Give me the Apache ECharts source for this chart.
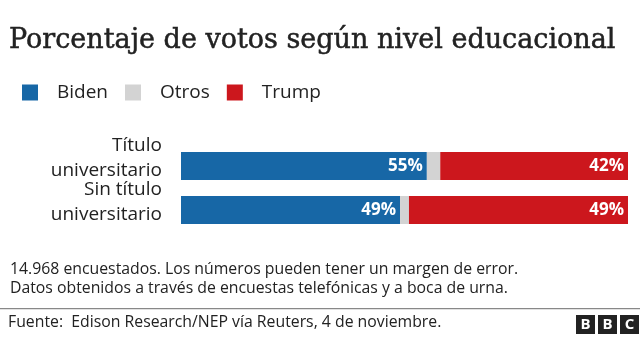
<!DOCTYPE html>
<html><head><meta charset="utf-8">
<script src="https://cdn.jsdelivr.net/npm/echarts@6/dist/echarts.min.js"></script>
<style>html,body{margin:0;padding:0;background:#fff}#c{width:640px;height:337px}</style>
</head><body><div id="c"></div>
<script>
const categories = ['Título\nuniversitario', 'Sin título\nuniversitario'];
const biden = [55, 49];
const otros = [3, 2];
const trump = [42, 49];
const seriesNames = ['Biden', 'Otros', 'Trump'];
const titleText = 'Porcentaje de votos según nivel educacional';
const note1 = '14.968 encuestados. Los números pueden tener un margen de error.';
const note2 = 'Datos obtenidos a través de encuestas telefónicas y a boca de urna.';
const source = 'Fuente:  Edison Research/NEP vía Reuters, 4 de noviembre.';

const SANS = 'Open Sans';
const colors = ['#1767a6', '#d3d3d3', '#cc171d'];
const chart = echarts.init(document.getElementById('c'), null, {renderer: 'canvas'});
const lbl = {show: true, position: 'insideRight', color: '#fff', fontWeight: 'bold', fontSize: 17, fontFamily: SANS, formatter: p => p.value + '%', distance: 4};
const bbcFont = 'bold 15px "' + SANS + '"';
chart.setOption({
  animation: false,
  color: colors,
  title: {text: titleText, left: 9, top: 27, padding: 0, textStyle: {fontFamily: 'DejaVu Serif', fontSize: 27, fontWeight: 'normal', color: '#222', textBorderColor: '#222', textBorderWidth: 0.5}},
  legend: {left: 22, top: 83, padding: 0, itemWidth: 16, itemHeight: 16, itemGap: 17, icon: 'rect',
    textStyle: {fontFamily: SANS, fontSize: 19, color: '#222', padding: [0,0,0,14]}, data: seriesNames},
  grid: {left: 181, right: 12, top: 144, bottom: 105},
  xAxis: {type: 'value', min: 0, max: 100, show: false},
  yAxis: {type: 'category', data: categories, inverse: true, axisLine: {show: false}, axisTick: {show: false},
    axisLabel: {interval: 0, margin: 19, align: 'right',
      formatter: v => v.split('\n').map(s => '{a|' + s + '}').join('\n') + '\n{b| }',
      rich: {
        a: {fontFamily: SANS, fontSize: 19, color: '#222', lineHeight: 25, align: 'right'},
        b: {fontSize: 10, lineHeight: 16}
      }}},
  series: [
    {name: seriesNames[0], type: 'bar', stack: 't', data: biden, barWidth: 28, label: lbl},
    {name: seriesNames[1], type: 'bar', stack: 't', data: otros, barWidth: 28},
    {name: seriesNames[2], type: 'bar', stack: 't', data: trump, barWidth: 28, label: lbl}
  ],
  graphic: [
    {type: 'text', left: 10, top: 261, style: {text: note1, font: '15.8px "' + SANS + '"', fill: '#222'}},
    {type: 'text', left: 10, top: 280, style: {text: note2, font: '15.8px "' + SANS + '"', fill: '#222'}},
    {type: 'rect', shape: {x: 0, y: 308, width: 640, height: 1.2}, style: {fill: '#888'}},
    {type: 'text', left: 8, top: 314, style: {text: source, font: '15.8px "' + SANS + '"', fill: '#222'}},
    {type: 'group', left: 576, top: 315, children: [
      {type: 'rect', shape: {x: 0, y: 0, width: 19, height: 19}, style: {fill: '#222'}},
      {type: 'rect', shape: {x: 22, y: 0, width: 19, height: 19}, style: {fill: '#222'}},
      {type: 'rect', shape: {x: 44, y: 0, width: 19, height: 19}, style: {fill: '#222'}},
      {type: 'text', x: 9.5, y: 10, style: {text: 'B', font: bbcFont, fill: '#fff', align: 'center', verticalAlign: 'middle'}},
      {type: 'text', x: 31.5, y: 10, style: {text: 'B', font: bbcFont, fill: '#fff', align: 'center', verticalAlign: 'middle'}},
      {type: 'text', x: 53.5, y: 10, style: {text: 'C', font: bbcFont, fill: '#fff', align: 'center', verticalAlign: 'middle'}}
    ]}
  ]
});
</script></body></html>
